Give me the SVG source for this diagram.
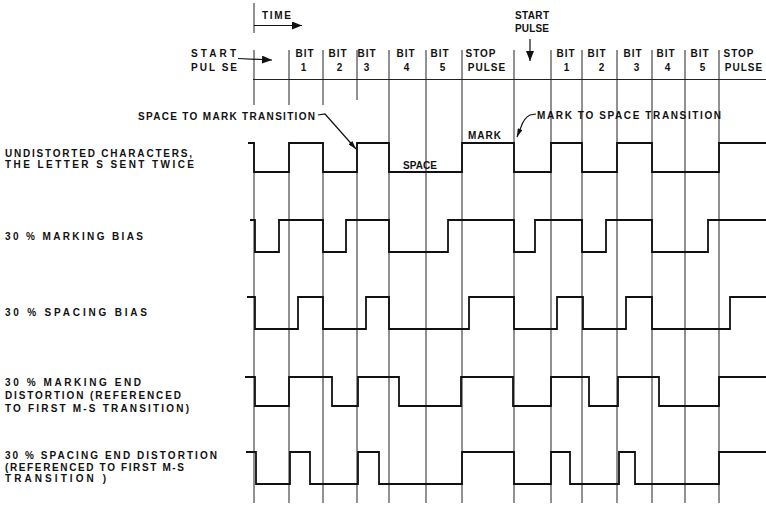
<svg xmlns="http://www.w3.org/2000/svg" width="766" height="505" viewBox="0 0 766 505">
<style>
  text { font-family: "Liberation Sans", Arial, sans-serif; font-weight: bold; font-size: 10px; fill: #111; letter-spacing: 1px; }
  .mid { text-anchor: middle; }
  .grid { stroke: #222; stroke-width: 1; fill: none; }
  .wave { stroke: #111; stroke-width: 1.8; fill: none; stroke-linejoin: miter; }
  .lead { stroke: #111; stroke-width: 1.2; fill: none; }
</style>
<defs>
  <marker id="ah" viewBox="0 0 10 8" refX="10" refY="4" markerWidth="10" markerHeight="8" markerUnits="userSpaceOnUse" orient="auto">
    <path d="M0,0 L10,4 L0,8 Z" fill="#111"/>
  </marker>
  <marker id="ahs" viewBox="0 0 10 6" refX="10" refY="3" markerWidth="9" markerHeight="5" markerUnits="userSpaceOnUse" orient="auto">
    <path d="M0,0 L10,3 L0,6 Z" fill="#111"/>
  </marker>
</defs>
<rect width="766" height="505" fill="#fff"/>

<g id="grid">
  <line class="grid" x1="254" y1="3" x2="254" y2="33"/>
  <line class="grid" x1="254" y1="50" x2="254" y2="105"/>
  <line class="grid" x1="254" y1="142" x2="254" y2="503"/>
  <line class="grid" x1="289" y1="50" x2="289" y2="105"/>
  <line class="grid" x1="289" y1="142" x2="289" y2="503"/>
  <line class="grid" x1="323" y1="50" x2="323" y2="105"/>
  <line class="grid" x1="323" y1="142" x2="323" y2="503"/>
  <line class="grid" x1="357" y1="50" x2="357" y2="100"/>
  <line class="grid" x1="357" y1="142" x2="357" y2="503"/>
  <line class="grid" x1="389" y1="50" x2="389" y2="503"/>
  <line class="grid" x1="426" y1="50" x2="426" y2="503"/>
  <line class="grid" x1="462" y1="50" x2="462" y2="503"/>
  <line class="grid" x1="514" y1="50" x2="514" y2="503"/>
  <line class="grid" x1="551" y1="50" x2="551" y2="503"/>
  <line class="grid" x1="582" y1="50" x2="582" y2="503"/>
  <line class="grid" x1="617" y1="50" x2="617" y2="503"/>
  <line class="grid" x1="652" y1="50" x2="652" y2="503"/>
  <line class="grid" x1="685" y1="50" x2="685" y2="503"/>
  <line class="grid" x1="719" y1="50" x2="719" y2="503"/>
  <line class="grid" x1="253" y1="79.5" x2="766" y2="79.5"/>
</g>

<g id="header">
  <text x="262" y="19" textLength="30">TIME</text>
  <text x="191" y="57" textLength="46">START</text>
  <text x="191" y="71" textLength="47">PUL SE</text>
  <text x="515" y="19" textLength="35">START</text>
  <text x="515" y="32" textLength="35">PULSE</text>
  <text class="mid" x="305" y="57">BIT</text><text class="mid" x="304" y="71">1</text>
  <text class="mid" x="338" y="57">BIT</text><text class="mid" x="340" y="71">2</text>
  <text class="mid" x="367" y="57">BIT</text><text class="mid" x="367" y="71">3</text>
  <text class="mid" x="406" y="57">BIT</text><text class="mid" x="407" y="71">4</text>
  <text class="mid" x="440" y="57">BIT</text><text class="mid" x="443" y="71">5</text>
  <text class="mid" x="481" y="57">STOP</text><text class="mid" x="487" y="71">PULSE</text>
  <text class="mid" x="566" y="57">BIT</text><text class="mid" x="567" y="71">1</text>
  <text class="mid" x="597" y="57">BIT</text><text class="mid" x="602" y="71">2</text>
  <text class="mid" x="633" y="57">BIT</text><text class="mid" x="637" y="71">3</text>
  <text class="mid" x="666" y="57">BIT</text><text class="mid" x="668" y="71">4</text>
  <text class="mid" x="700" y="57">BIT</text><text class="mid" x="703" y="71">5</text>
  <text class="mid" x="739" y="57">STOP</text><text class="mid" x="744" y="71">PULSE</text>
</g>

<g id="connectors">
  <line class="lead" x1="254" y1="25.5" x2="302" y2="25.5" marker-end="url(#ah)"/>
  <path class="lead" d="M238,58.5 L272,60" marker-end="url(#ah)"/>
  <line class="lead" x1="530" y1="39" x2="530" y2="61" marker-end="url(#ah)"/>
  <path class="lead" d="M318,115 L325,114 L356,149" marker-end="url(#ahs)"/>
  <path class="lead" d="M536,114 L530,115 Q524,118 521,127 L517,137" marker-end="url(#ahs)"/>
</g>

<g id="row1">
  <text x="5" y="157" textLength="188">UNDISTORTED CHARACTERS,</text>
  <text x="5" y="168" textLength="190">THE LETTER S SENT TWICE</text>
  <text x="138" y="120" textLength="178">SPACE TO MARK TRANSITION</text>
  <text x="537" y="119" textLength="185">MARK TO SPACE TRANSITION</text>
  <text x="468" y="139" textLength="34">MARK</text>
  <text x="403" y="169" textLength="35">SPACE</text>
  <path class="wave" d="M248,143 H254 V172 H289 V143 H323 V172 H357 V143 H389 V172 H462 V143 H514 V172 H551 V143 H582 V172 H617 V143 H652 V172 H719 V143 H766"/>
</g>

<g id="row2">
  <text x="5" y="240" textLength="139">30 % MARKING BIAS</text>
  <path class="wave" d="M250,220 H255 V252 H279 V220 H323 V252 H346 V220 H389 V252 H448 V220 H514 V252 H535 V220 H582 V252 H606 V220 H652 V252 H708 V220 H766"/>
</g>

<g id="row3">
  <text x="5" y="316" textLength="143">30 % SPACING BIAS</text>
  <path class="wave" d="M247,297 H255 V329 H298 V297 H323 V329 H366 V297 H389 V329 H469 V297 H514 V329 H557 V297 H583 V329 H626 V297 H652 V329 H730 V297 H766"/>
</g>

<g id="row4">
  <text x="5" y="386" textLength="137">30 % MARKING END</text>
  <text x="5" y="399" textLength="177">DISTORTION (REFERENCED</text>
  <text x="5" y="412" textLength="185">TO FIRST M-S TRANSITION)</text>
  <path class="wave" d="M245,377 H255 V406 H289 V377 H332 V406 H358 V377 H399 V406 H461 V377 H513 V406 H551 V377 H589 V406 H618 V377 H659 V406 H719 V377 H766"/>
</g>

<g id="row5">
  <text x="5" y="459" textLength="213">30 % SPACING END DISTORTION</text>
  <text x="5" y="471" textLength="180">(REFERENCED TO FIRST M-S</text>
  <text x="5" y="482" textLength="102">TRANSITION )</text>
  <path class="wave" d="M246,452 H256 V484 H290 V452 H310 V484 H358 V452 H379 V484 H462 V452 H514 V484 H551 V452 H570 V484 H619 V452 H635 V484 H719 V452 H766"/>
</g>
</svg>
